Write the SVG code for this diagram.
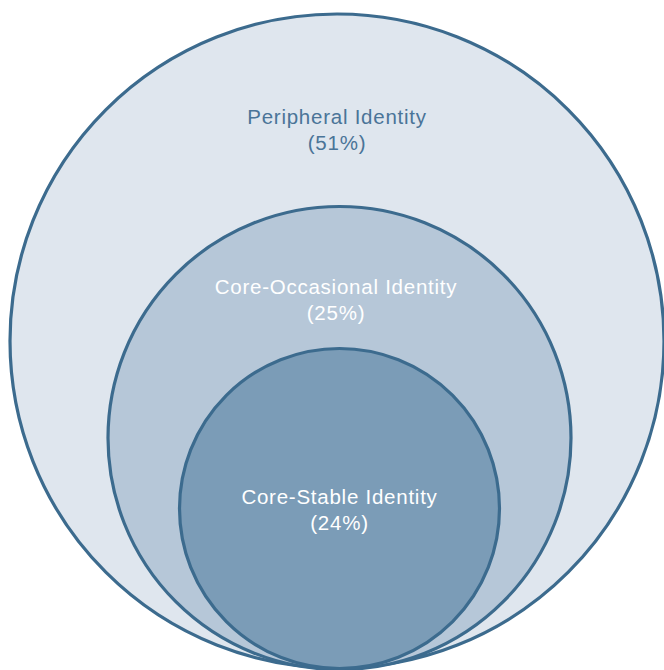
<svg xmlns="http://www.w3.org/2000/svg" width="664" height="670" viewBox="0 0 664 670">
<style>
.ring{stroke:#3c6b8e;stroke-width:3.2}
.lbl{font-family:"Liberation Sans",Arial,sans-serif;font-size:20.5px;letter-spacing:0.75px;text-anchor:middle}
.dark{fill:#4a7498}
.light{fill:#ffffff}
</style>
<rect width="664" height="670" fill="#ffffff"/>
<g id="peripheral">
<circle class="ring" cx="337" cy="341" r="327" fill="#dfe6ee"/>
<text class="lbl dark" x="337" y="124">Peripheral Identity</text>
<text class="lbl dark" x="337" y="150">(51%)</text>
</g>
<g id="core-occasional">
<circle class="ring" cx="339.5" cy="438" r="231.5" fill="#b6c7d8"/>
<text class="lbl light" x="336" y="294">Core-Occasional Identity</text>
<text class="lbl light" x="336" y="320">(25%)</text>
</g>
<g id="core-stable">
<circle class="ring" cx="339.5" cy="508.5" r="160" fill="#7b9cb7"/>
<text class="lbl light" x="339.5" y="504">Core-Stable Identity</text>
<text class="lbl light" x="339.5" y="530">(24%)</text>
</g>
<g id="connectors"/>
</svg>
